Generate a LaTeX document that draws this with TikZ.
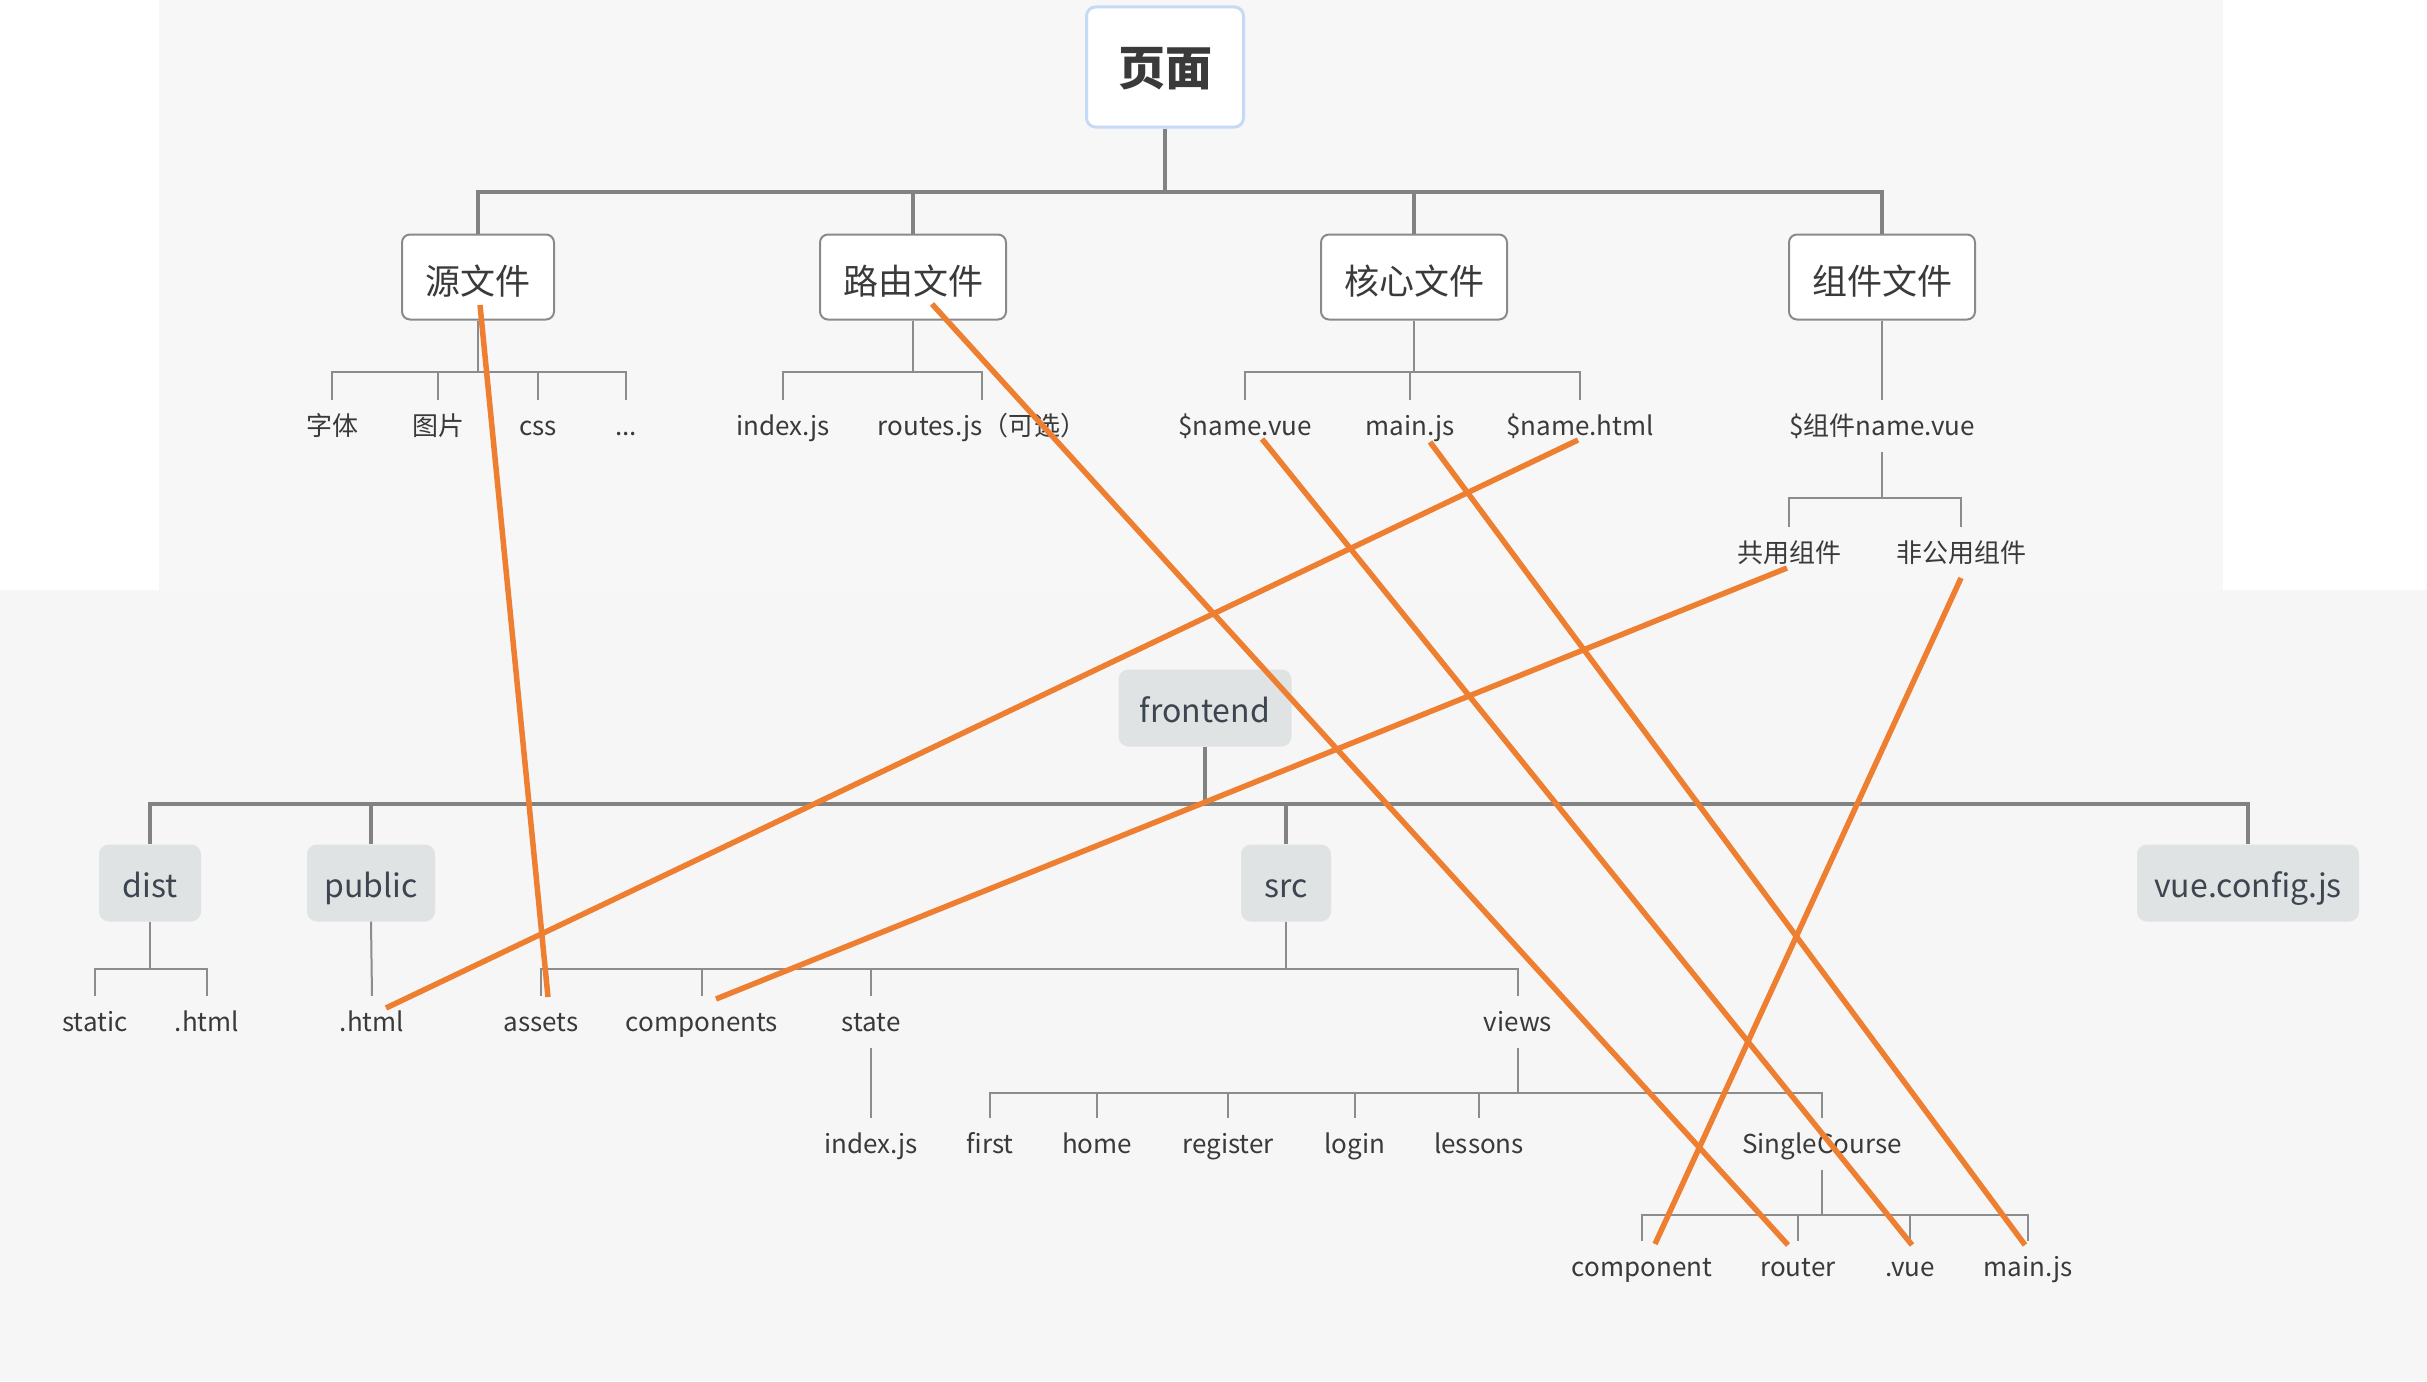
\documentclass[tikz,border=0pt]{standalone}
\usepackage{fontspec}
\setmainfont{Noto Sans CJK SC}
\definecolor{bgg}{HTML}{F7F7F7}
\definecolor{bgg2}{HTML}{F6F6F6}
\definecolor{linegray}{HTML}{828282}
\definecolor{leafgray}{HTML}{8C8C8C}
\definecolor{orng}{HTML}{EE7E30}
\definecolor{boxfill}{HTML}{DFE3E3}
\definecolor{topblue}{HTML}{C6DAF6}
\definecolor{catborder}{HTML}{8A8A8A}
\definecolor{txt}{HTML}{3A3A3A}
\definecolor{dirtxt}{HTML}{3D4550}
\begin{document}
\begin{tikzpicture}[x=1pt,y=-1pt,
  rootbox/.style={draw=topblue, line width=3pt, fill=white, rounded corners=9pt,
    minimum width=157, minimum height=120, inner sep=0pt, text height=40pt, text depth=3pt,
    font=\fontsize{47}{47}\selectfont\bfseries, text=txt},
  catbox/.style={draw=catborder, line width=2pt, fill=white, rounded corners=8pt,
    minimum width=186, minimum height=85, inner sep=0pt, text height=34pt, text depth=0pt,
    font=\fontsize{35}{35}\selectfont, text=txt},
  dirbox/.style={fill=boxfill, rounded corners=10pt, minimum height=77, inner sep=0pt,
    text height=30pt, text depth=1pt,
    font=\fontsize{32}{32}\selectfont, text=dirtxt},
  leaf/.style={inner sep=0pt, minimum height=52, text height=24pt, text depth=6pt,
    font=\fontsize{26}{26}\selectfont, text=txt},
  thickline/.style={draw=linegray, line width=4pt},
  medline/.style={draw=linegray, line width=3.5pt},
  thinline/.style={draw=leafgray, line width=2pt},
  link/.style={draw=orng, line width=5.5pt}]
\useasboundingbox (0,0) rectangle (2427,1381);
% background
\fill[white] (0,0) rectangle (2427,1381);
\fill[bgg] (159,0) rectangle (2223,590);
\fill[bgg2] (0,590) rectangle (2427,1381);

% ---------- upper tree ----------
\node[rootbox] (root) at (1165,67) {页面};
\node[catbox, minimum width=152] (yuan) at (478,277) {源文件};
\node[catbox] (luyou) at (913,277) {路由文件};
\node[catbox] (hexin) at (1414,277) {核心文件};
\node[catbox] (zujian) at (1882,277) {组件文件};
\coordinate (bar0) at (0,192);
\foreach \c in {yuan,luyou,hexin,zujian}
  \draw[thickline] (root.south) -- (root.south |- bar0) -| (\c.north);

\node[leaf] (ziti) at (332,426) {字体};
\node[leaf] (tupian) at (438,426) {图片};
\node[leaf] (css) at (538,426) {css};
\node[leaf] (etc) at (626,426) {...};
\node[leaf] (index1) at (783,426) {index.js};
\node[leaf] (routes) at (982,426) {routes.js（可选）};
\node[leaf] (namevue) at (1245,426) {\$name.vue};
\node[leaf] (mainjs1) at (1410,426) {main.js};
\node[leaf] (namehtml) at (1580,426) {\$name.html};
\node[leaf] (compvue) at (1882,426) {\$组件name.vue};
\node[leaf] (gongyong) at (1789,553) {共用组件};
\node[leaf] (feigong) at (1961,553) {非公用组件};

\coordinate (bar1) at (0,372);
\foreach \c in {ziti,tupian,css,etc}
  \draw[thinline] (yuan.south) -- (yuan.south |- bar1) -| (\c.north);
\foreach \c in {index1,routes}
  \draw[thinline] (luyou.south) -- (luyou.south |- bar1) -| (\c.north);
\foreach \c in {namevue,mainjs1,namehtml}
  \draw[thinline] (hexin.south) -- (hexin.south |- bar1) -| (\c.north);
\draw[thinline] (zujian.south) -- (compvue.north);
\coordinate (bar2) at (0,498);
\foreach \c in {gongyong,feigong}
  \draw[thinline] (compvue.south) -- (compvue.south |- bar2) -| (\c.north);

% ---------- lower tree ----------
\node[dirbox, minimum width=173] (frontend) at (1205,708) {frontend};
\node[dirbox, minimum width=102] (dist) at (150,883) {dist};
\node[dirbox, minimum width=128] (public) at (371,883) {public};
\node[dirbox, minimum width=90] (src) at (1286,883) {src};
\node[dirbox, minimum width=222] (vueconfig) at (2248,883) {vue.config.js};
\coordinate (bar3) at (0,804);
\foreach \c in {dist,public,src,vueconfig}
  \draw[medline] (frontend.south) -- (frontend.south |- bar3) -| (\c.north);

\node[leaf] (static) at (95,1022) {static};
\node[leaf] (disthtml) at (207,1022) {.html};
\node[leaf] (pubhtml) at (372,1022) {.html};
\node[leaf] (assets) at (541,1022) {assets};
\node[leaf] (components) at (702,1022) {components};
\node[leaf] (state) at (871,1022) {state};
\node[leaf] (views) at (1518,1022) {views};
\node[leaf] (stateindex) at (871,1144) {index.js};
\node[leaf] (first) at (990,1144) {first};
\node[leaf] (home) at (1097,1144) {home};
\node[leaf] (register) at (1228,1144) {register};
\node[leaf] (login) at (1355,1144) {login};
\node[leaf] (lessons) at (1479,1144) {lessons};
\node[leaf] (single) at (1822,1144) {SingleCourse};
\node[leaf] (component) at (1642,1267) {component};
\node[leaf] (router) at (1798,1267) {router};
\node[leaf] (vue) at (1910,1267) {.vue};
\node[leaf] (mainjs2) at (2028,1267) {main.js};

\coordinate (bar4) at (0,969);
\foreach \c in {static,disthtml}
  \draw[thinline] (dist.south) -- (dist.south |- bar4) -| (\c.north);
\draw[thinline] (public.south) -- (pubhtml.north);
\foreach \c in {assets,components,state,views}
  \draw[thinline] (src.south) -- (src.south |- bar4) -| (\c.north);
\draw[thinline] (state.south) -- (stateindex.north);
\coordinate (bar5) at (0,1093);
\foreach \c in {first,home,register,login,lessons,single}
  \draw[thinline] (views.south) -- (views.south |- bar5) -| (\c.north);
\coordinate (bar6) at (0,1215);
\foreach \c in {component,router,vue,mainjs2}
  \draw[thinline] (single.south) -- (single.south |- bar6) -| (\c.north);

% ---------- orange links ----------
\coordinate (l1a) at (480,305);  \coordinate (l1b) at (548,997);
\coordinate (l2a) at (932,304);  \coordinate (l2b) at (1788,1245);
\coordinate (l3a) at (1262,439); \coordinate (l3b) at (1912,1245);
\coordinate (l4a) at (1430,442); \coordinate (l4b) at (2025,1245);
\coordinate (l5a) at (1578,440); \coordinate (l5b) at (386,1008);
\coordinate (l6a) at (1787,568); \coordinate (l6b) at (716,999);
\coordinate (l7a) at (1961,578); \coordinate (l7b) at (1655,1244);
\foreach \i in {1,...,7}
  \draw[link] (l\i a) -- (l\i b);
\end{tikzpicture}
\end{document}
